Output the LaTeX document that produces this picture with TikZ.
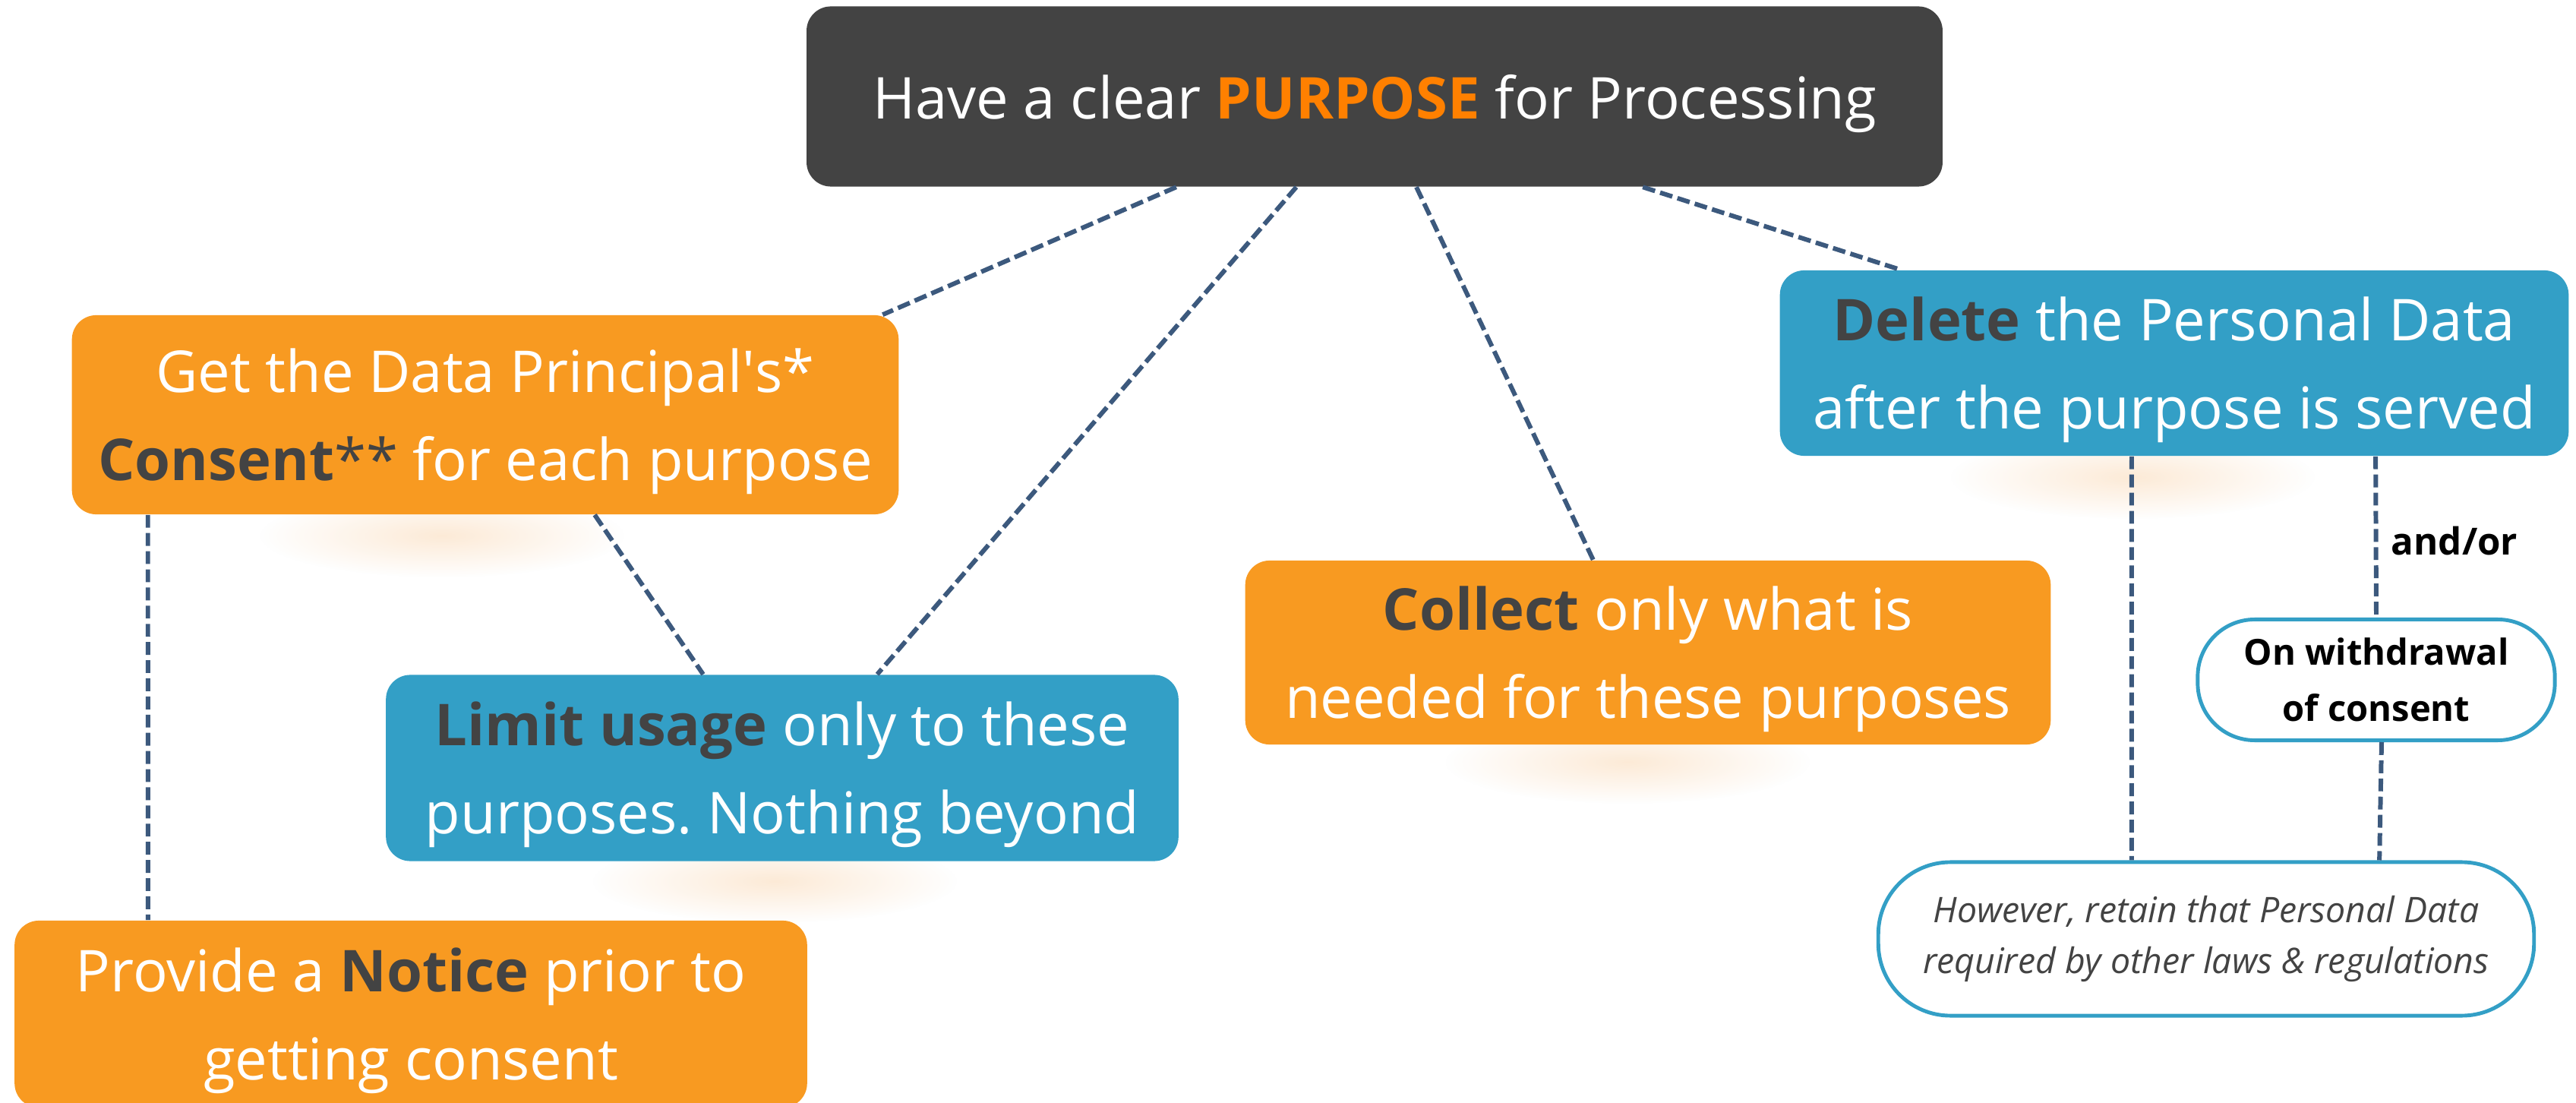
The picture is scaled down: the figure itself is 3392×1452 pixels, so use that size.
\documentclass[tikz,border=0pt]{standalone}
\usepackage{fontspec}
\setmainfont{Open Sans}
\usetikzlibrary{fadings}
\definecolor{boxdark}{HTML}{434343}
\definecolor{boxorange}{HTML}{F89A21}
\definecolor{boxblue}{HTML}{339FC6}
\definecolor{purposeorange}{HTML}{FF8000}
\definecolor{linkblue}{HTML}{3C597D}
\definecolor{glow}{HTML}{F8C48C}
\tikzfading[name=softglow,inner color=transparent!65,outer color=transparent!100]
\newcommand{\keyword}[1]{\textbf{\color{boxdark}#1}}
\frenchspacing
\begin{document}
\begin{tikzpicture}[x=0.01cm,y=-0.01cm,inner sep=0pt,
		box/.style={rounded corners=0.32cm,align=center,text=white,text depth=0pt,font=\fontsize{21.6}{33}\selectfont},
		pill/.style={draw=boxblue,line width=1.4pt,fill=white,align=center},
		link/.style={draw=linkblue,line width=1.7pt,dash pattern=on 4.8pt off 2pt}]
	\path[use as bounding box,fill=white] (0,0) rectangle (3392,1452);
	%%% glows under the boxes
	\foreach \x/\y in {582/705,1020/1160,2143/1003,2808/628}
	\fill[glow,path fading=softglow] (\x,\y) ellipse (2.4cm and 0.55cm);
	%%%
	\path (1810,127) node[box,fill=boxdark,minimum width=14.95cm,minimum height=2.37cm] (purpose) {Have a clear \textbf{\color{purposeorange}PURPOSE} for Processing};
	\path (639,546) node[box,fill=boxorange,minimum width=10.88cm,minimum height=2.62cm] (consent) {Get the Data Principal\textquotesingle s*\\\keyword{Consent}{\color{boxdark}**} for each purpose};
	\path (1030,1011) node[box,fill=boxblue,minimum width=10.43cm,minimum height=2.45cm] (limit) {\keyword{Limit usage} only to these\\purposes. Nothing beyond};
	\path (2170,859) node[box,fill=boxorange,minimum width=10.60cm,minimum height=2.42cm] (collect) {\keyword{Collect} only what is\\needed for these purposes};
	\path (2863,478) node[box,fill=boxblue,minimum width=10.38cm,minimum height=2.44cm] (delete) {\keyword{Delete} the Personal Data\\after the purpose is served};
	\path (541,1335) node[box,fill=boxorange,minimum width=10.43cm,minimum height=2.46cm] (notice) {Provide a \keyword{Notice} prior to\\getting consent};
	%%%
	\path (3129,895) node[pill,rounded corners=0.75cm,minimum width=4.70cm,minimum height=1.59cm,font=\bfseries\fontsize{13.4}{21}\selectfont] (withdrawal) {On withdrawal\\of consent};
	\path (2905,1236) node[pill,rounded corners=0.95cm,minimum width=8.63cm,minimum height=2.02cm,text=boxdark,font=\itshape\fontsize{13.2}{19}\selectfont] (however) {However, retain that Personal Data\\required by other laws \& regulations};
	\path (3232,712) node[font=\bfseries\fontsize{14}{16}\selectfont] (andor) {and/or};
	%%%
	\draw[link] ([xshift=-2.61cm]purpose.south)--([xshift=5.23cm]consent.north);
	\draw[link] ([xshift=-1.03cm]purpose.south)--([xshift=1.25cm]limit.north);
	\draw[link] ([xshift=0.55cm]purpose.south)--([xshift=-0.72cm]collect.north);
	\draw[link] ([xshift=3.53cm]purpose.south)--([xshift=-3.60cm]delete.north);
	\draw[link] ([xshift=1.44cm]consent.south)--([xshift=-1.04cm]limit.north);
	\draw[link] ([xshift=-4.44cm]consent.south)--([xshift=-3.46cm]notice.north);
	\draw[link] ([xshift=-0.56cm]delete.south)--([xshift=-0.98cm]however.north);
	\draw[link] ([xshift=2.65cm]delete.south)--(withdrawal.north);
	\draw[link] ([xshift=0.07cm]withdrawal.south)--([xshift=2.28cm]however.north);
\end{tikzpicture}
\end{document}
